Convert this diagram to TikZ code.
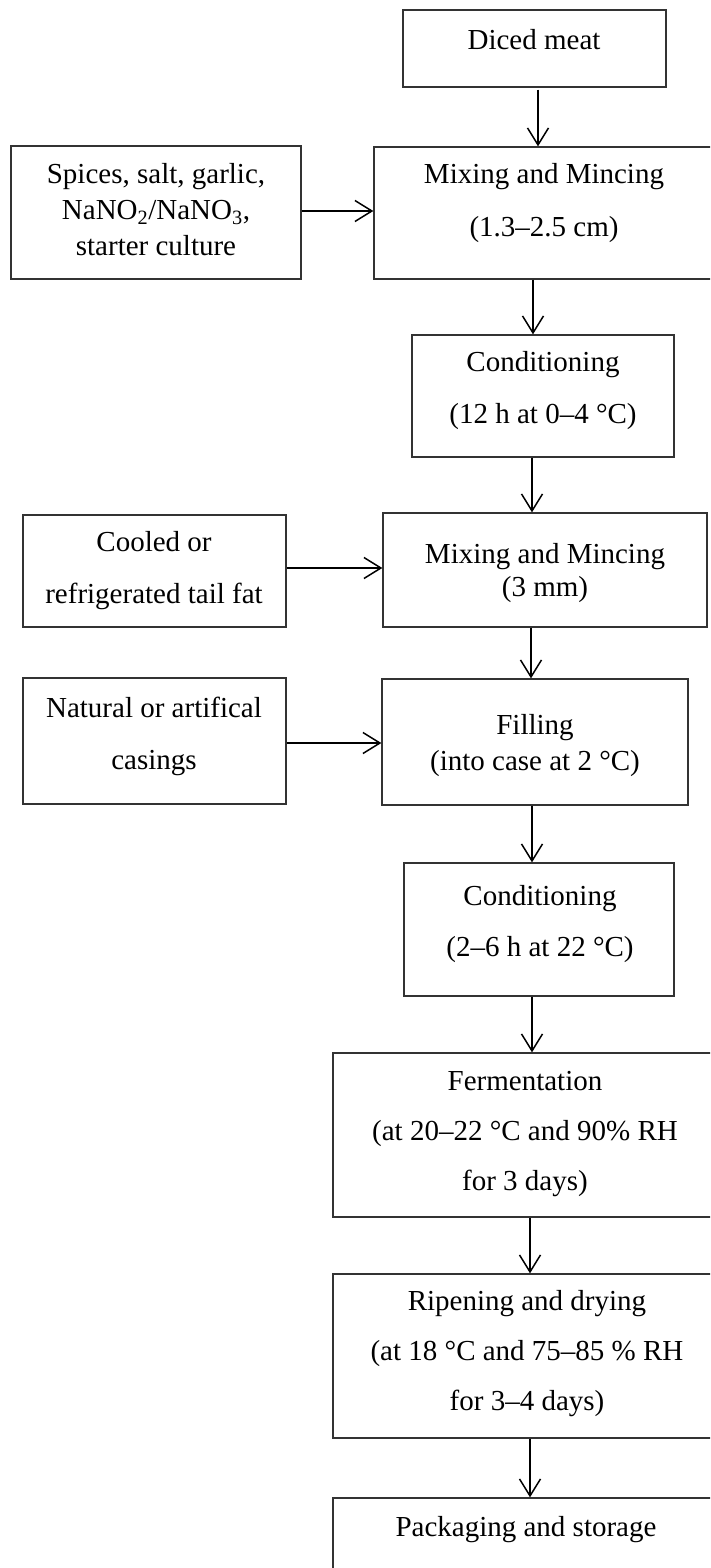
\documentclass[tikz,border=0pt]{standalone}
\usepackage{fontspec}
\setmainfont{Liberation Serif}
\usetikzlibrary{arrows.meta}
\tikzset{
  boxline/.style={draw=black!80, line width=1.3pt},
  arr/.style={draw=black, line width=1.7pt, -{Straight Barb[length=17pt,width=21pt,line width=1.5pt]}},
  txt/.style={inner sep=0pt, align=center, font=\fontsize{29}{50}\selectfont},
}
\newcommand{\mybox}[5]{\node[boxline, inner sep=0pt, minimum width={#4-#2}, minimum height={#5-#3}] (#1) at ({(#2+#4)/2},{(#3+#5)/2}) {};}
\begin{document}
\begin{tikzpicture}[x=1pt, y=-1pt]
\clip (0,0) rectangle (710,1568);
\fill[white] (0,0) rectangle (710,1568);
% boxes
\mybox{diced}{403}{10}{666}{87}
\mybox{mixa}{374}{147}{714}{279}
\mybox{spices}{11}{146}{301}{279}
\mybox{conda}{412}{335}{674}{457}
\mybox{cooled}{23}{515}{286}{627}
\mybox{mixb}{383}{513}{707}{627}
\mybox{natural}{23}{678}{286}{804}
\mybox{filling}{382}{679}{688}{805}
\mybox{condb}{404}{863}{674}{996}
\mybox{ferm}{333}{1053}{717}{1217}
\mybox{ripen}{333}{1274}{717}{1438}
\mybox{pack}{333}{1498}{717}{1610}
% texts
\node[txt] (tdiced) at (534,40) {Diced meat};
\node[txt] (tmixa) at (544,203) {Mixing and Mincing\\[3pt](1.3--2.5 cm)};
\node[txt, font=\fontsize{29}{36}\selectfont] (tspices) at (156,210) {Spices, salt, garlic,\\NaNO\textsubscript{2}/NaNO\textsubscript{3},\\starter culture};
\node[txt] (tconda) at (543,391) {Conditioning\\[2pt](12 h at 0--4 °C)};
\node[txt] (tcooled) at (154,571) {Cooled or\\[2pt]refrigerated tail fat};
\node[txt, font=\fontsize{29}{33}\selectfont] (tmixb) at (545,573) {Mixing and Mincing\\(3 mm)};
\node[txt] (tnatural) at (154,736) {Natural or artifical\\[2pt]casings};
\node[txt, font=\fontsize{29}{36}\selectfont] (tfilling) at (535,746) {Filling\\(into case at 2 °C)};
\node[txt] (tcondb) at (540,924) {Conditioning\\[1pt](2--6 h at 22 °C)};
\node[txt] (tferm) at (525,1134) {Fermentation\\(at 20--22 °C and 90\% RH\\for 3 days)};
\node[txt] (tripen) at (527,1354) {Ripening and drying\\(at 18 °C and 75--85 \% RH\\for 3--4 days)};
\node[txt] (tpack) at (526,1530) {Packaging and storage};
% connector guides
\coordinate (xa) at (538,0);
\coordinate (xb) at (533,0);
\coordinate (xc) at (532,0);
\coordinate (xd) at (531,0);
\coordinate (xe) at (532,0);
\coordinate (xf) at (532,0);
\coordinate (xg) at (530,0);
\coordinate (xh) at (530,0);
\coordinate (ya) at (0,211);
\coordinate (yb) at (0,568);
\coordinate (yc) at (0,743);
% vertical arrows
\draw[arr] ([yshift=-2pt]diced.south -| xa) -- (mixa.north -| xa);
\draw[arr] (mixa.south -| xb) -- (conda.north -| xb);
\draw[arr] (conda.south -| xc) -- (mixb.north -| xc);
\draw[arr] (mixb.south -| xd) -- (filling.north -| xd);
\draw[arr] (filling.south -| xe) -- (condb.north -| xe);
\draw[arr] (condb.south -| xf) -- (ferm.north -| xf);
\draw[arr] (ferm.south -| xg) -- (ripen.north -| xg);
\draw[arr] (ripen.south -| xh) -- (pack.north -| xh);
% horizontal arrows
\draw[arr] (spices.east |- ya) -- (mixa.west |- ya);
\draw[arr] (cooled.east |- yb) -- (mixb.west |- yb);
\draw[arr] (natural.east |- yc) -- (filling.west |- yc);
\end{tikzpicture}
\end{document}
